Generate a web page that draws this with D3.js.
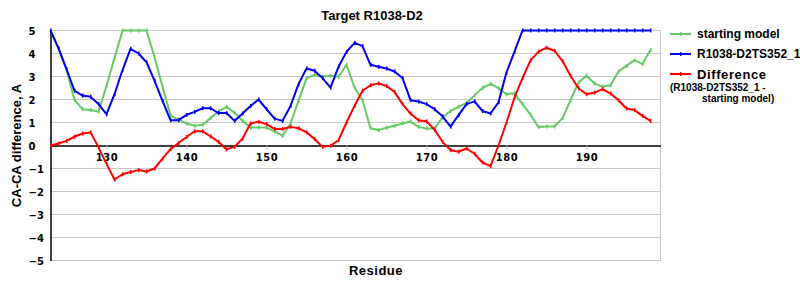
<!DOCTYPE html>
<html>
<head>
<meta charset="utf-8">
<script src="https://cdn.jsdelivr.net/npm/d3@7"></script>
<style>
  body { margin: 0; background: #fff; }
  svg { display: block; }
  .tick-label { font-family: "DejaVu Sans", sans-serif; font-weight: bold; font-size: 10px; fill: #000; }
  .lbl { font-family: "Liberation Sans", Arial, sans-serif; font-weight: bold; fill: #000; }
</style>
</head>
<body>
<div id="chart"></div>
<script>
// residues 123..198
const residues = d3.range(123, 199);

const startingModel = [
  5.0, 4.2, 3.3, 1.98, 1.58, 1.54, 1.47, 2.6, 3.8, 5,
  5, 5, 5, 3.85, 2.55, 1.3, 1.12, 0.96, 0.86, 0.9,
  1.19, 1.48, 1.68, 1.43, 1.07, 0.78, 0.78, 0.78, 0.61, 0.42,
  0.95, 1.94, 2.93, 3.07, 3.0, 3.03, 2.99, 3.51, 2.52, 1.97,
  0.75, 0.67, 0.77, 0.86, 0.96, 1.04, 0.81, 0.74, 0.74, 1.22,
  1.5, 1.68, 1.85, 2.18, 2.5, 2.68, 2.49, 2.23, 2.27, 1.8,
  1.34, 0.8, 0.83, 0.83, 1.19, 1.97, 2.74, 3.03, 2.7, 2.55,
  2.62, 3.22, 3.46, 3.71, 3.54, 4.16
];

const ts352 = [
  5.0, 4.23, 3.32, 2.38, 2.17, 2.12, 1.8, 1.36, 2.23, 3.28,
  4.2, 4.0, 3.62, 2.82, 1.94, 1.1, 1.1, 1.33, 1.46, 1.62,
  1.62, 1.41, 1.41, 1.07, 1.39, 1.72, 2.0, 1.58, 1.17, 1.07,
  1.72, 2.67, 3.35, 3.25, 2.93, 2.52, 3.42, 4.07, 4.46, 4.32,
  3.51, 3.42, 3.35, 3.22, 2.93, 1.97, 1.91, 1.8, 1.58, 1.27,
  0.82, 1.32, 1.8, 1.92, 1.5, 1.39, 1.88, 3.18, 4.08, 5,
  5, 5, 5, 5, 5, 5, 5, 5, 5, 5,
  5, 5, 5, 5, 5, 5
];

const difference = [
  0, 0.09, 0.2, 0.38, 0.52, 0.57, -0.08, -0.8, -1.48, -1.25,
  -1.15, -1.07, -1.13, -1.0, -0.57, -0.16, 0.11, 0.37, 0.62, 0.62,
  0.4, 0.16, -0.17, -0.06, 0.3, 0.96, 1.03, 0.93, 0.72, 0.72,
  0.81, 0.75, 0.57, 0.28, -0.06, -0.01, 0.23, 1.0, 1.72, 2.38,
  2.62, 2.7, 2.59, 2.33, 1.8, 1.39, 1.1, 1.05, 0.69, 0.16,
  -0.2, -0.27, -0.13, -0.36, -0.74, -0.9, 0.0, 1.0, 2.09, 2.93,
  3.7, 4.08, 4.25, 4.12, 3.67, 3.03, 2.49, 2.23, 2.3, 2.45,
  2.26, 1.97, 1.61, 1.54, 1.29, 1.07
];

const xTicks = [130, 140, 150, 160, 170, 180, 190];
const yTicks = [5, 4, 3, 2, 1, 0, -1, -2, -3, -4, -5];

const series = [
  { name: "starting model", color: "#66c866", values: startingModel },
  { name: "R1038-D2TS352_1", color: "#0000f0", values: ts352 },
  { name: "Difference", color: "#ff0000", values: difference }
];

const svg_width = 800;
const svg_height = 300;
const plot = { left: 50.5, right: 660.5, top: 30.5, bottom: 260.5 };

const svg = d3.select("#chart")
  .append("svg")
  .attr("width", svg_width)
  .attr("height", svg_height);

const x = d3.scaleLinear()
  .domain([123, 199.25])
  .range([plot.left, plot.right]);

const y = d3.scaleLinear()
  .domain([-5, 5])
  .range([plot.bottom, plot.top]);

// Gridlines
svg.append("g")
  .selectAll("line")
  .data(yTicks.filter(d => d !== 0))
  .enter()
  .append("line")
  .attr("x1", plot.left)
  .attr("x2", plot.right)
  .attr("y1", d => y(d))
  .attr("y2", d => y(d))
  .style("stroke", "#c8c8c8")
  .style("stroke-width", 1);

// right border
svg.append("line")
  .attr("x1", plot.right).attr("x2", plot.right)
  .attr("y1", plot.top).attr("y2", plot.bottom)
  .style("stroke", "#c8c8c8");

// y axis
const yAxis = svg.append("g")
  .attr("transform", "translate(" + plot.left + ",0)")
  .call(d3.axisLeft(y).tickValues(yTicks).tickSize(0).tickPadding(0));
yAxis.select(".domain").style("stroke", "#000").style("stroke-width", 1.5);
yAxis.selectAll("text")
  .attr("class", "tick-label")
  .attr("text-anchor", "start")
  .attr("x", -22)
  .attr("dy", "0.36em");

// x axis on zero line
const xAxis = svg.append("g")
  .attr("transform", "translate(0," + y(0) + ")")
  .call(d3.axisBottom(x).tickValues(xTicks).tickSize(5).tickSizeOuter(0).tickPadding(3));
xAxis.select(".domain").style("stroke", "#000").style("stroke-width", 1.5);
xAxis.selectAll(".tick line").style("stroke", "#c0c0c0");
xAxis.selectAll("text")
  .attr("class", "tick-label")
  .style("letter-spacing", "0.5px");

// Lines
const line = d3.line()
  .x((d, i) => x(residues[i]))
  .y(d => y(d));

series.forEach(s => {
  svg.append("path")
    .datum(s.values)
    .attr("d", line)
    .style("fill", "none")
    .style("stroke", s.color)
    .style("stroke-width", 2)
    .style("stroke-linejoin", "round");

  svg.append("g")
    .selectAll("rect")
    .data(s.values)
    .enter()
    .append("rect")
    .attr("x", (d, i) => x(residues[i]) - 0.5)
    .attr("y", d => y(d) - 2)
    .attr("width", 1.5)
    .attr("height", 4)
    .style("fill", s.color);
});

// Title and axis labels
svg.append("text")
  .attr("class", "lbl")
  .attr("x", 372)
  .attr("y", 20)
  .attr("text-anchor", "middle")
  .style("font-size", "13px")
  .text("Target R1038-D2");

svg.append("text")
  .attr("class", "lbl")
  .attr("x", 376)
  .attr("y", 275)
  .attr("text-anchor", "middle")
  .style("font-size", "13px")
  .style("letter-spacing", "0.5px")
  .text("Residue");

svg.append("text")
  .attr("class", "lbl")
  .attr("transform", "translate(20.5," + y(0) + ") rotate(-90)")
  .attr("text-anchor", "middle")
  .style("font-size", "13px")
  .text("CA-CA difference, A");

// Legend
const legendRows = [38, 58, 78];
const legend = svg.append("g");
series.forEach((s, i) => {
  const cy = legendRows[i] - 4;
  legend.append("line")
    .attr("x1", 670).attr("x2", 691)
    .attr("y1", cy).attr("y2", cy)
    .style("stroke", s.color)
    .style("stroke-width", 2);
  legend.append("rect")
    .attr("x", 680).attr("y", cy - 2)
    .attr("width", 1.5).attr("height", 4)
    .style("fill", s.color);
  legend.append("text")
    .attr("class", "lbl")
    .attr("x", 697)
    .attr("y", legendRows[i] + (i === 2 ? 1 : 0))
    .style("font-size", i === 2 ? "13px" : "12px")
    .style("letter-spacing", i === 2 ? "0.6px" : "0px")
    .text(s.name);
});
legend.append("text")
  .attr("class", "lbl")
  .attr("x", 670)
  .attr("y", 91)
  .style("font-size", "10px")
  .text("(R1038-D2TS352_1 -");
legend.append("text")
  .attr("class", "lbl")
  .attr("x", 702)
  .attr("y", 101.5)
  .style("font-size", "10px")
  .text("starting model)");
</script>
</body>
</html>
